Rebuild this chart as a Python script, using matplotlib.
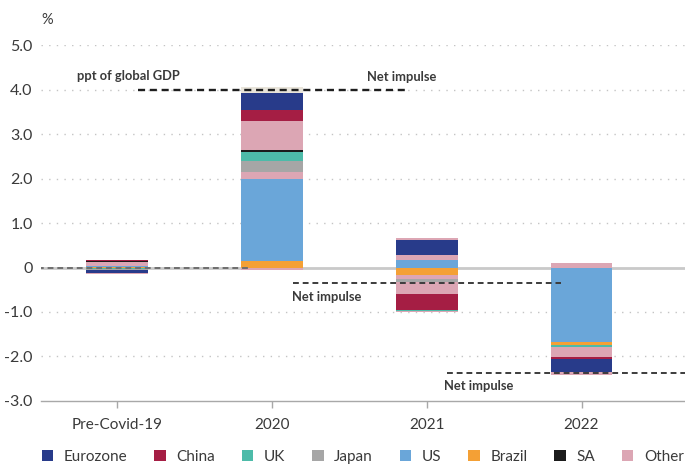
import matplotlib
matplotlib.use("Agg")
import matplotlib.pyplot as plt
from matplotlib.patches import Patch

plt.rcParams['font.family'] = ['Lato', 'DejaVu Sans']

# Fiscal impulse by economy, ppt of global GDP
categories = ["Pre-Covid-19", "2020", "2021", "2022"]

series = ["Eurozone", "China", "UK", "Japan", "US", "Brazil", "SA", "Other"]
colors = {
    "Eurozone": "#283b8a",
    "China": "#a51e44",
    "UK": "#4dbba9",
    "Japan": "#a6a6a6",
    "US": "#6aa6d9",
    "Brazil": "#f4a035",
    "SA": "#1b1b1b",
    "Other": "#dca6b4",
    "Residual": "#e8e4da",
}

# Stack contents per period, in stacking order (positives go up, negatives down)
stack_pre = [("Brazil", 0.015), ("US", 0.015), ("Other", 0.10), ("SA", 0.02),
             ("China", 0.025), ("UK", -0.03), ("Japan", -0.02),
             ("Eurozone", -0.075), ("Other", -0.02)]
stack_2020 = [("Brazil", 0.135), ("US", 1.865), ("Other", 0.157), ("Japan", 0.247),
              ("UK", 0.202), ("SA", 0.025), ("Other", 0.652), ("China", 0.247),
              ("Eurozone", 0.382), ("Residual", 0.135), ("Other", -0.05)]
stack_2021 = [("US", 0.16), ("Other", 0.11), ("SA", 0.022), ("Eurozone", 0.337),
              ("Other", 0.045), ("Brazil", -0.164), ("Other", -0.09),
              ("Japan", -0.067), ("Other", -0.27), ("China", -0.36),
              ("UK", -0.03), ("Other", -0.03)]
stack_2022 = [("Other", 0.09), ("US", -1.685), ("Brazil", -0.06), ("UK", -0.045),
              ("Other", -0.225), ("China", -0.052), ("Eurozone", -0.276),
              ("Other", -0.083)]
stacks = [stack_pre, stack_2020, stack_2021, stack_2022]

net_impulse = [0.0, 3.98, -0.34, -2.36]

yticks = [5.0, 4.0, 3.0, 2.0, 1.0, 0.0, -1.0, -2.0, -3.0]
ytick_labels = ["5.0", "4.0", "3.0", "2.0", "1.0", "0", "-1.0", "-2.0", "-3.0"]

text_color = "#3a3a3a"

fig = plt.figure(figsize=(6.85, 4.66), dpi=100)
ax = fig.add_axes([0.06, 0.1395, 0.94, 0.7639])
ax.set_xlim(-0.488, 3.668)
ax.set_ylim(-3.0, 5.0)

# dotted gridlines and solid zero line
for yv in yticks:
    if yv == 0:
        ax.axhline(0, color="#c9c9c9", lw=2.0, zorder=1)
    elif yv > -3:
        ax.axhline(yv, color="#c4c4c4", lw=1.0, ls=(0, (1, 4.5)), zorder=1)

bar_w = 0.40
for i, stack in enumerate(stacks):
    pos, neg = 0.0, 0.0
    for name, val in stack:
        if val >= 0:
            ax.bar(i, val, bottom=pos, width=bar_w, color=colors[name],
                   linewidth=0, zorder=2)
            pos += val
        else:
            ax.bar(i, val, bottom=neg, width=bar_w, color=colors[name],
                   linewidth=0, zorder=2)
            neg += val

# net impulse markers
line_styles = [("#6e6e6e", 1.4), ("#1e1e1e", 1.7), ("#3c3c3c", 1.4), ("#3c3c3c", 1.4)]
half = 0.865
for i, v in enumerate(net_impulse):
    c, lw = line_styles[i]
    ax.plot([i - half, i + half], [v, v], color=c, lw=lw, ls=(0, (3, 2)),
            zorder=4, solid_capstyle="butt", dash_capstyle="butt")

label_kw = dict(fontsize=9.3, fontweight="bold", color=text_color, va="center", ha="left")
ax.text(-0.256, 4.31, "ppt of global GDP", **label_kw)
ax.text(1.614, 4.29, "Net impulse", **label_kw)
ax.text(1.13, -0.66, "Net impulse", **label_kw)
ax.text(2.11, -2.67, "Net impulse", **label_kw)

# axes styling
for s in ["top", "right", "left"]:
    ax.spines[s].set_visible(False)
ax.spines["bottom"].set_color("#a8a8a8")
ax.spines["bottom"].set_linewidth(1.0)
ax.spines["bottom"].set_bounds(-0.488, 3.668)

ax.set_yticks(yticks)
ax.set_yticklabels(ytick_labels)
ax.tick_params(axis="y", length=0, pad=6, labelsize=11.5, labelcolor=text_color)
ax.set_xticks(range(len(categories)))
ax.set_xticklabels(categories)
ax.tick_params(axis="x", length=5, width=1, color="#a8a8a8", direction="out",
               pad=7, labelsize=11, labelcolor=text_color)

fig.text(41 / 685, 1 - 20 / 466, "%", fontsize=10.5, color=text_color,
         ha="left", va="center")

handles = [Patch(facecolor=colors[s], edgecolor="none", label=s) for s in series]
fig.legend(handles=handles, loc="center left", bbox_to_anchor=(0.061, 0.02),
           ncol=8, frameon=False, fontsize=11, handlelength=0.75,
           handleheight=0.75, handletextpad=0.7, columnspacing=1.75,
           borderpad=0, borderaxespad=0, labelcolor=text_color)

fig.savefig("out.png", dpi=100)
